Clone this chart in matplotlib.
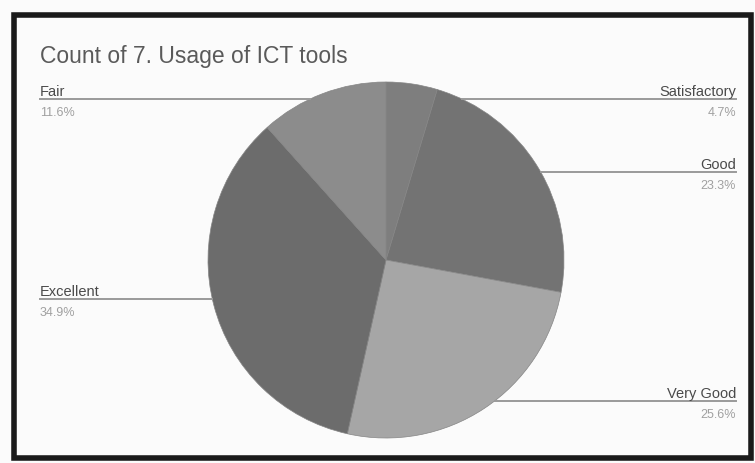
import matplotlib.pyplot as plt
import matplotlib.patches as mpatches
import numpy as np

categories = ["Satisfactory", "Good", "Very Good", "Excellent", "Fair"]
counts = [4, 20, 22, 30, 10]
colors = ["#7e7e7e", "#737373", "#a6a6a6", "#6c6c6c", "#8c8c8c"]

W, H = 755, 464
fig = plt.figure(figsize=(W / 100, H / 100), dpi=100)
fig.patch.set_facecolor("#fbfbfb")
ax = fig.add_axes([0, 0, 1, 1])

# pixel layout (y measured from the top of the picture)
cx, cy, r = 386, 261, 178

def py(y):
	return H - y

wedges, _ = ax.pie(counts, colors=colors, startangle=90, counterclock=False,
	center=(cx, py(cy)), radius=r, frame=True,
	wedgeprops=dict(linewidth=0.5, edgecolor="#858585"))
ax.set_xlim(0, W)
ax.set_ylim(0, H)
ax.set_aspect("equal")
ax.axis("off")

# frame round the chart
ax.add_patch(mpatches.Rectangle((14, py(459)), 737, 443, fill=False,
	edgecolor="#1a1a1a", linewidth=4))

ax.text(40, py(57), "Count of 7. Usage of ICT tools", fontsize=16.5,
	color="#5a5a5a", family="Liberation Sans", va="center", ha="left")

# label y (line height) and side for each slice
label_y = [100, 173, 402, 300, 100]
label_side = ["right", "right", "right", "left", "left"]

total = sum(counts)
for name, n, ly, side in zip(categories, counts, label_y, label_side):
	dx = np.sqrt(r ** 2 - (ly - cy) ** 2)
	if side == "right":
		x0, x1 = cx + dx, 736
		tx, ha = 736, "right"
	else:
		x0, x1 = 40, cx - dx
		tx, ha = 40, "left"
	ax.plot([x0, x1], [py(ly), py(ly)], color="#9a9a9a", linewidth=1.4)
	ax.text(tx, py(ly - 8), name, fontsize=10.5, color="#4a4a4a",
		family="Liberation Sans", ha=ha, va="center")
	ax.text(tx, py(ly + 13), "%.1f%%" % (100.0 * n / total), fontsize=9,
		color="#a0a0a0", family="Liberation Sans", ha=ha, va="center")

plt.savefig("out.png", dpi=100, facecolor=fig.get_facecolor())
